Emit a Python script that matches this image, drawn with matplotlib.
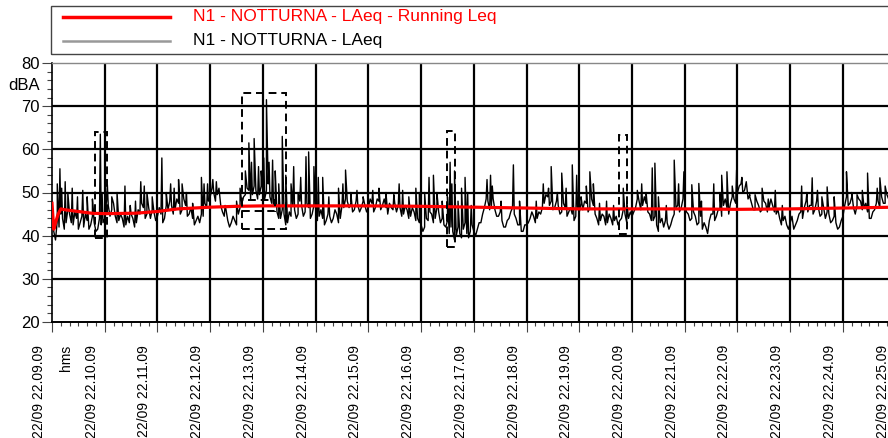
import numpy as np
import matplotlib.pyplot as plt
from matplotlib.patches import Rectangle
from matplotlib.lines import Line2D
from matplotlib.transforms import ScaledTranslation

plt.rcParams['font.family'] = ['Liberation Sans', 'DejaVu Sans']

# ── Data (time in seconds from 22.09.09) ──────────────────────────────────────
tick_s = [0, 60, 120, 180, 240, 300, 360, 420, 480, 540, 600,
          660, 720, 780, 840, 900, 960]
tick_labels = ["22/09 22.%02d.09" % m for m in range(9, 26)]
y_ticks = [20, 30, 40, 50, 60, 70, 80]

# LAeq trace, samples at t = 0, 4, 8 ... s
laeq_step = 4
laeq_db = [
    46, 39, 42, 44, 43, 45, 42.5, 44, 43, 42, 43.5, 42.5, 43, 41.5, 42.5,
    44, 47, 46, 44.5, 43.5, 44, 42.5, 43, 44, 43, 45, 46.5, 45, 44, 45.5,
    44.5, 45, 44, 46, 47, 46, 47.5, 46, 47, 45, 44, 43.5, 43, 44.5, 46.5,
    49, 50, 49.5, 47, 44.5, 43.5, 43, 43.5, 45, 47.5, 49.5, 50.5, 49.5, 50.5, 49.5,
    50, 50.5, 49, 47, 45.5, 44, 45, 43, 44.5, 46, 45, 47, 45.5, 46.5, 45,
    46, 44.5, 44, 43.5, 44.5, 44, 45, 44, 46.5, 48, 47.5, 46, 47, 46.5, 47,
    46.5, 47.5, 46.5, 48, 47, 46.5, 47.5, 46, 45.5, 46.5, 45, 46, 44.5, 45.5, 44,
    42.5, 42, 43.5, 45, 44, 45.5, 44, 42, 40.5, 41, 40, 40.5, 41.5, 40.5, 41,
    41, 41.5, 43, 46.5, 48, 47, 46, 44.5, 43.5, 42, 44, 46.5, 44, 42.5, 41,
    42.5, 44, 44.5, 44, 45, 47.5, 49, 48, 46.5, 47, 45.5, 46.5, 45.5, 45, 44.5,
    45.5, 46, 47.5, 46.5, 47, 44, 43.5, 44.5, 43, 44, 43.5, 42.5, 44, 45, 44,
    44.5, 46.5, 48, 47, 47.5, 45, 43.5, 42.5, 43, 42, 43, 42.5, 45, 47, 46.5,
    47, 45, 44, 44.5, 43, 41.5, 42, 43.5, 45, 44.5, 46, 47, 46.5, 47.5, 48.5,
    50, 52, 50.5, 48.5, 47.5, 46, 47, 46, 47.5, 46.5, 47, 45, 44, 43.5, 42.5,
    43, 41.5, 43.5, 45.5, 46.5, 45.5, 47, 46, 46.5, 45, 44, 45, 43.5, 43, 42,
    44.5, 49, 47.5, 46.5, 47, 48, 46.5, 45.5, 44, 46, 48, 49, 47.5, 48.5, 47,
]
# samples in between, at t = 2, 6, 10 ... s
laeq_mid_db = [
    41, 43.5, 45, 41.5, 46, 43, 45.5, 41.5, 44.5, 45, 41.5, 44.5, 41, 44, 43,
    48, 44.5, 47.5, 43, 45, 42, 44.5, 45, 42, 46, 47.5, 44, 46.5, 46, 43.5,
    46.5, 43, 47, 48, 45, 48.5, 45, 48.5, 44.5, 46.5, 42.5, 44.5, 45, 47.5, 48,
    51, 48, 51, 45.5, 46, 42, 44.5, 42.5, 46.5, 49, 51, 48.5, 51.5, 48.5, 51.5,
    48.5, 52, 47.5, 48.5, 44, 46, 42.5, 45.5, 47, 44, 48, 44.5, 47.5, 44, 47,
    43.5, 46, 42.5, 45, 43, 46, 43, 47, 48.5, 46.5, 45.5, 48, 45.5, 48, 45.5,
    48.5, 45.5, 48.5, 46, 48.5, 45, 46.5, 47.5, 47, 44.5, 47, 44, 46.5, 43.5, 43,
    41, 44, 45.5, 43, 46.5, 43, 42.5, 43.5, 42, 39, 42, 39.5, 43, 39.5, 42.5,
    40, 43, 45, 48.5, 46, 48.5, 44.5, 45.5, 42, 43.5, 45.5, 45, 42.5, 41, 42.5,
    43, 45.5, 43, 45.5, 46.5, 49.5, 47, 46, 48, 45, 47.5, 44.5, 46.5, 43.5, 46.5,
    47.5, 48, 45.5, 48.5, 45, 42.5, 45, 42.5, 45, 42.5, 44.5, 43.5, 46, 43, 45.5,
    45.5, 48.5, 46, 49, 45.5, 43.5, 44.5, 41, 44, 43.5, 41.5, 44, 46.5, 45.5, 48.5,
    45.5, 43.5, 45.5, 42.5, 44.5, 43, 40.5, 45, 43.5, 46, 44.5, 48.5, 45, 49, 47.5,
    51.5, 50, 52.5, 49.5, 46, 48, 45.5, 48, 45.5, 48.5, 45.5, 46, 42.5, 44.5, 41.5,
    44.5, 42.5, 45, 44, 48, 47, 45, 48, 44.5, 46.5, 45.5, 43, 44.5, 41.5, 43.5,
    47, 47, 49, 45, 48.5, 46, 47.5, 44, 45.5, 47.5, 46.5, 47.5, 49.5, 46, 48,
]

# short peaks
peak_t = [6, 9, 11, 15, 18, 23, 29, 35, 40, 46, 55, 57,
          63, 68, 74, 83, 89, 95, 101, 105, 108, 114,
          125, 130, 135, 139, 144, 148, 153, 160, 170, 173,
          177, 183, 187, 197, 210, 214,
          220, 224, 227, 230, 235, 238, 241, 244, 247, 251, 254, 258, 262, 266,
          272, 275, 280, 283, 289, 292, 298, 303, 308, 315,
          326, 331, 334, 340, 347, 354, 365, 372, 380, 389, 395, 399, 406, 414, 418,
          424, 429, 434, 438, 444, 450, 453, 455, 458, 462, 466, 470, 473, 477,
          495, 499, 501, 511, 525, 532,
          551, 559, 565, 568, 575, 580, 585, 592, 597, 602,
          608, 612, 616, 623, 631, 639, 650, 654,
          666, 671, 676, 683, 686, 690, 699, 708, 713, 719,
          728, 736, 739, 753, 760, 762, 768, 774, 779,
          785, 794, 800, 808, 815, 823, 831,
          853, 859, 865, 871, 876, 882, 890,
          904, 910, 916, 922, 928, 939, 942, 948]
peak_db = [52, 55.5, 51, 52.5, 50, 51, 49, 50.5, 49, 48.5, 63.5, 50,
           51.8, 49, 50, 51.5, 47, 48, 52.5, 51.5, 50, 49,
           58, 50, 52, 51, 53, 52, 50, 47.5, 53.5, 52,
           52, 53, 52.5, 47, 48, 51,
           55, 61.5, 57, 62.5, 56, 55, 58, 71.5, 57, 57.5, 55, 52, 63, 54,
           52, 56, 50, 53.5, 58.3, 59.4, 56, 53.5, 53.5, 49,
           51, 52, 55.2, 50, 50.5, 49, 50.5, 51, 50, 49.5, 52, 50.5, 49, 51, 50,
           50, 53.5, 54, 50, 48, 49, 57, 52, 55, 48, 51, 53.5, 50, 47,
           53, 54, 51.5, 48, 56.4, 48,
           48, 52, 51, 56, 50, 54.5, 51, 56.4, 54, 49,
           51.5, 54.8, 52, 47.5, 48, 47, 51, 48,
           50.5, 52, 50, 55.7, 56.8, 49, 47, 57.5, 52, 54.8,
           51.8, 52.1, 48, 52, 50, 54, 54.8, 51.5, 55.2,
           53.5, 49, 49.5, 51, 48.5, 50.5, 47,
           51.5, 50, 53.4, 50.5, 49, 51.3, 49,
           54.8, 50, 49.5, 50.5, 54.5, 51, 53.4, 51.5]

# running Leq
leq_t = [0, 2, 4, 7, 10, 15, 30, 45, 60, 95, 120, 143, 180, 210, 240, 300,
         360, 420, 480, 540, 600, 660, 720, 780, 840, 900, 960]
leq_db = [47.5, 41.5, 43, 45, 46.2, 46, 45.6, 45.2, 45.1, 45.2, 45.6, 46.2,
          46.6, 46.8, 46.9, 46.9, 46.9, 46.8, 46.6, 46.4, 46.2, 46.2, 46.2,
          46.1, 46.2, 46.4, 46.6]

# dashed boxes: (t_start, t_end, db_low, db_high)
boxes = [(49, 63, 39.5, 64),
         (216, 266, 41.6, 73),
         (216, 254, 45.6, 48.3),
         (450, 459, 37.4, 64.3),
         (645, 654, 40.4, 63.3)]

# ── Merge samples and peaks in time order ─────────────────────────────────────
base_t = np.arange(len(laeq_db)) * laeq_step
mid_t = base_t + laeq_step / 2
all_t = np.concatenate([base_t, mid_t, peak_t])
all_db = np.concatenate([laeq_db, laeq_mid_db, peak_db])
order = np.argsort(all_t, kind='stable')
all_t, all_db = all_t[order], all_db[order]

# ── Figure ────────────────────────────────────────────────────────────────────
W, H = 888, 438
fig = plt.figure(figsize=(W / 100, H / 100), dpi=100)
x0, y_top, y_bot = 52, 63, 322
px_per_s = 52.73 / 60
xmax = 980
ax = fig.add_axes([x0 / W, 1 - y_bot / H, xmax * px_per_s / W, (y_bot - y_top) / H])

for t in tick_s[1:]:
    ax.axvline(t, color='black', lw=1.6, zorder=1)
for y in y_ticks[1:-1]:
    ax.axhline(y, color='black', lw=1.6, zorder=1)

ax.plot(all_t, all_db, color='black', lw=1.0, zorder=3)
ax.plot(leq_t, leq_db, color='#ff0000', lw=2.3, zorder=4)

for ts, te, lo, hi in boxes:
    ax.add_patch(Rectangle((ts, lo), te - ts, hi - lo, fill=False, ec='black',
                           lw=1.4, ls=(0, (4, 2.5)), zorder=5))

ax.set_xlim(0, xmax)
ax.set_ylim(20, 80)
ax.set_xticks(tick_s)
ax.set_xticklabels([])
ax.set_xticks(np.arange(0, xmax, 10), minor=True)
ax.set_yticks(y_ticks)
ax.set_yticklabels([str(v) for v in y_ticks], fontsize=12)
ax.set_yticks(np.arange(20, 81, 2), minor=True)
ax.tick_params(axis='x', which='major', length=7.2, width=0.8, color='#444')
ax.tick_params(axis='x', which='minor', length=2.9, width=0.8, color='#444')
ax.tick_params(axis='y', which='major', length=7.2, width=0.8, color='#444', pad=1.5)
ax.tick_params(axis='y', which='minor', length=3.6, width=0.8, color='#444')

ax.spines['top'].set_color('#888888')
ax.spines['top'].set_linewidth(1.0)
ax.spines['right'].set_visible(False)
ax.spines['left'].set_linewidth(1.2)
ax.spines['bottom'].set_linewidth(1.4)

# rotated date/time labels
off = ScaledTranslation(-13 / 100, 0, fig.dpi_scale_trans)
ylab = -(345 - y_bot) / (y_bot - y_top)
for t, lab in zip(tick_s, tick_labels):
    ax.text(t, ylab, lab, transform=ax.get_xaxis_transform() + off,
            rotation=90, ha='center', va='top', fontsize=10)
fig.text(66 / W, 1 - 345 / H, "hms", rotation=90, ha='center', va='top', fontsize=10)
fig.text(40 / W, 1 - 86 / H, "dBA", ha='right', va='center', fontsize=12)

# legend box
fig.add_artist(Rectangle((51 / W, 1 - 54 / H), (900 - 51) / W, 48 / H,
                         transform=fig.transFigure, fill=False, ec='#444', lw=1))
fig.add_artist(Line2D([63 / W, 170 / W], [1 - 17 / H] * 2, color='#ff0000', lw=2.5,
                      transform=fig.transFigure))
fig.add_artist(Line2D([63 / W, 170 / W], [1 - 41 / H] * 2, color='#999999', lw=1.8,
                      transform=fig.transFigure))
fig.text(193 / W, 1 - 17 / H, "N1 - NOTTURNA - LAeq - Running Leq", color='#ff0000',
         fontsize=12.5, va='center')
fig.text(193 / W, 1 - 40 / H, "N1 - NOTTURNA - LAeq", color='black',
         fontsize=12.5, va='center')

fig.savefig("out.png", dpi=100)
